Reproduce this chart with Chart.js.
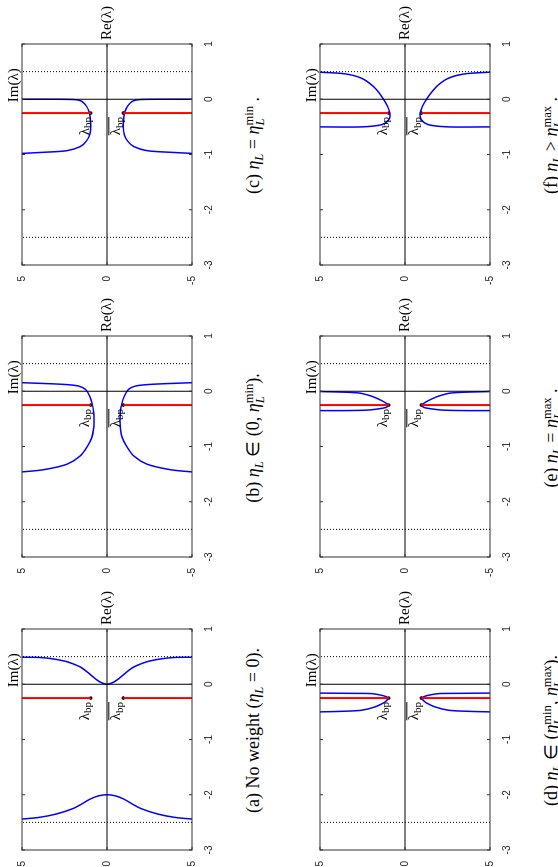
<!DOCTYPE html>
<html>
<head>
<meta charset="utf-8">
<script src="https://cdn.jsdelivr.net/npm/chart.js@4.4.0/dist/chart.umd.min.js"></script>
<style>
  html, body { margin: 0; padding: 0; background: #fff; }
  body { width: 558px; height: 867px; overflow: hidden; position: relative; }
  /* the figure is laid out landscape, then turned a quarter turn counter-clockwise */
  #fig { position: absolute; left: 0; top: 0; width: 867px; height: 558px;
         transform-origin: 0 0; transform: translate(0, 867px) rotate(-90deg); }
  #fig canvas { position: absolute; }
  .cap { position: absolute; width: 320px; text-align: center; white-space: nowrap;
         font-family: "Liberation Serif", serif; font-size: 18px; line-height: 20px; color: #000; }
  .sb { font-size: 0.7em; vertical-align: -0.3em; }
  .ss { display: inline-block; vertical-align: -0.45em; font-size: 0.7em; line-height: 0.9em; text-align: left; }
  .ss span { display: block; }
</style>
</head>
<body>
<div id="fig"></div>
<script>
// axes
const reTicks = [-3, -2, -1, 0, 1];
const imTicks = [-5, 0, 5];
const dottedRe = [0.5, -2.5];

// branch point lambda_bp = bpRe + i*bpIm (and its conjugate)
const bpRe = -0.25;
const bpIm = 0.96;

// upper halves (Im >= 0) of the blue curves; the lower halves are the conjugates
// (a) no weight: both curves cross the real axis
const a1Im = [5, 4, 3.3, 2.5, 2, 1.5, 1, 0.6, 0.3, 0];
const a1Re = [0.49, 0.485, 0.465, 0.42, 0.37, 0.3, 0.18, 0.08, 0.025, 0];
const a2Im = [5, 4, 3, 2, 1.5, 1, 0.5, 0];
const a2Re = [-2.44, -2.41, -2.35, -2.25, -2.17, -2.08, -2.02, -2];
// (b)
const bIm = [5, 3.33, 2.35, 1.67, 1.27, 1.02, 0.86, 0.78, 0.76, 0.8, 0.9, 1.14, 1.57, 2.35, 3.73, 5];
const bRe = [0.155, 0.136, 0.12, 0.094, 0.034, -0.087, -0.24, -0.39, -0.54, -0.69, -0.84, -0.99, -1.17, -1.32, -1.42, -1.46];
// (c)
const cIm = [5, 3, 2, 1.7, 1.47, 1.22, 1.06, 0.98, 0.96, 1.02, 1.22, 1.57, 2.35, 3.73, 5];
const cRe = [0, 0, -0.005, -0.015, -0.04, -0.12, -0.22, -0.34, -0.49, -0.64, -0.76, -0.855, -0.93, -0.96, -0.98];
// (d)
const dIm = [5, 3, 1.96, 1.37, 1.1, 0.98, 1.1, 1.27, 1.76, 2.55, 3.73, 5];
const dRe = [-0.16, -0.165, -0.17, -0.2, -0.225, -0.25, -0.3, -0.34, -0.41, -0.47, -0.49, -0.5];
// (e)
const eIm = [5, 2.75, 1.96, 1.37, 1.1, 0.98, 1.1, 1.37, 2.16, 3.53, 5];
const eRe = [-0.005, -0.03, -0.09, -0.17, -0.22, -0.25, -0.29, -0.31, -0.34, -0.35, -0.35];
// (f)
const fIm = [5, 3.53, 2.55, 1.86, 1.37, 1.02, 0.88, 0.98, 1.37, 2.55, 5];
const fRe = [0.49, 0.46, 0.38, 0.23, 0.05, -0.13, -0.28, -0.38, -0.46, -0.5, -0.5];

const BLUE = '#0000ff';
const RED = '#ff0000';
const SERIF = '"Liberation Serif", serif';

const etaL = '<i>η</i><span class="sb"><i>L</i></span>';
const etaS = s => '<i>η</i><span class="ss"><span>' + s + '</span><span><i>L</i></span></span>';

// plot boxes in the landscape frame (left, top); every box is 221 x 170
const panels = [
  {u: 17,    v: 21.7,  cross: true,  curves: [[a1Im, a1Re], [a2Im, a2Re]],
   cap: '(a) No weight (' + etaL + ' = 0).'},
  {u: 309.5, v: 21.7,  cross: false, curves: [[bIm, bRe]],
   cap: '(b) ' + etaL + ' ∈ (0, ' + etaS('min') + ').'},
  {u: 602,   v: 21.7,  cross: false, curves: [[cIm, cRe]],
   cap: '(c) ' + etaL + ' = ' + etaS('min') + ' .'},
  {u: 17,    v: 319.7, cross: false, curves: [[dIm, dRe]],
   cap: '(d) ' + etaL + ' ∈ (' + etaS('min') + ', ' + etaS('max') + ').'},
  {u: 309.5, v: 319.7, cross: false, curves: [[eIm, eRe]],
   cap: '(e) ' + etaL + ' = ' + etaS('max') + ' .'},
  {u: 602,   v: 319.7, cross: false, curves: [[fIm, fRe]],
   cap: '(f) ' + etaL + ' &gt; ' + etaS('max') + ' .'}
];

const PW = 221, PH = 170;
const PAD_L = 22, PAD_T = 22, PAD_R = 46, PAD_B = 22;

function seg(x0, y0, x1, y1, color, width, dash) {
  return {data: [{x: x0, y: y0}, {x: x1, y: y1}], showLine: true, borderColor: color,
          borderWidth: width, borderDash: dash || [], pointRadius: 0, tension: 0};
}

function blue(im, re) {
  return {data: im.map((v, i) => ({x: re[i], y: v})), showLine: true, borderColor: BLUE,
          borderWidth: 1.5, pointRadius: 0, tension: 0.3};
}

function buildDatasets(p) {
  const ds = [];
  dottedRe.forEach(r => ds.push(seg(r, -5, r, 5, '#000', 1, [1, 2])));
  ds.push(seg(-3, 0, 1, 0, '#000', 1));
  ds.push(seg(0, -5, 0, 5, '#000', 1));
  ds.push(seg(bpRe, 5, bpRe, bpIm, RED, 2));
  ds.push(seg(bpRe, -5, bpRe, -bpIm, RED, 2));
  p.curves.forEach(([im, re]) => {
    const lowIm = im.map(v => -v);
    if (p.cross) {
      // one curve through the real axis: upper half then its mirror
      const allIm = im.concat(lowIm.slice(0, -1).reverse());
      const allRe = re.concat(re.slice(0, -1).reverse());
      ds.push(blue(allIm, allRe));
    } else {
      ds.push(blue(im, re));
      ds.push(blue(lowIm, re));
    }
  });
  ds.push({data: [{x: bpRe, y: bpIm}, {x: bpRe, y: -bpIm}], showLine: false,
           pointRadius: 1.8, pointBackgroundColor: '#000', pointBorderWidth: 0});
  return ds;
}

function line(ctx, x0, y0, x1, y1) {
  ctx.beginPath(); ctx.moveTo(x0, y0); ctx.lineTo(x1, y1); ctx.stroke();
}

function bpLabel(ctx, xr, yb, bar) {
  ctx.font = '15px ' + SERIF;
  const w1 = ctx.measureText('λ').width;
  ctx.font = '11px ' + SERIF;
  const w2 = ctx.measureText('bp').width;
  const x0 = xr - w1 - w2;
  ctx.textAlign = 'left';
  ctx.textBaseline = 'alphabetic';
  ctx.font = '15px ' + SERIF;
  ctx.fillText('λ', x0, yb);
  ctx.font = '11px ' + SERIF;
  ctx.fillText('bp', x0 + w1, yb + 2.5);
  if (bar) line(ctx, x0, yb - 11.5, xr, yb - 11.5);
}

const framePlugin = {
  id: 'frame',
  afterDatasetsDraw(chart) {
    const {ctx, chartArea: a, scales: {x, y}} = chart;
    ctx.save();
    ctx.strokeStyle = '#333';
    ctx.lineWidth = 1;
    ctx.strokeRect(a.left, a.top, a.width, a.height);
    reTicks.forEach(t => {
      const px = x.getPixelForValue(t);
      line(ctx, px, a.top, px, a.top + 3);
      line(ctx, px, a.bottom, px, a.bottom - 3);
    });
    imTicks.forEach(t => {
      const py = y.getPixelForValue(t);
      line(ctx, a.left, py, a.left + 3, py);
      line(ctx, a.right, py, a.right - 3, py);
    });

    ctx.fillStyle = '#000';
    ctx.strokeStyle = '#000';
    ctx.font = '15px ' + SERIF;
    ctx.textAlign = 'left';
    ctx.textBaseline = 'middle';
    ctx.fillText('Re(λ)', a.right + 4, y.getPixelForValue(0));
    ctx.textBaseline = 'alphabetic';
    ctx.fillText('Im(λ)', x.getPixelForValue(0) - 3, a.top - 4.5);

    const bx = x.getPixelForValue(bpRe) - 4;
    bpLabel(ctx, bx, y.getPixelForValue(bpIm) - 2, false);
    bpLabel(ctx, bx, y.getPixelForValue(-bpIm) - 3, true);
    ctx.restore();
  }
};

const tickFont = {family: '"Liberation Sans", sans-serif', size: 10};

function makeChart(p) {
  const canvas = document.createElement('canvas');
  canvas.width = PAD_L + PW + PAD_R;
  canvas.height = PAD_T + PH + PAD_B;
  canvas.style.left = (p.u - PAD_L) + 'px';
  canvas.style.top = Math.round(p.v - PAD_T) + 'px';
  document.getElementById('fig').appendChild(canvas);

  new Chart(canvas.getContext('2d'), {
    type: 'scatter',
    data: {datasets: buildDatasets(p)},
    options: {
      responsive: false,
      animation: false,
      events: [],
      layout: {padding: {left: 0, top: PAD_T, right: PAD_R, bottom: 2}},
      plugins: {legend: {display: false}, tooltip: {enabled: false}},
      scales: {
        x: {
          type: 'linear', min: -3, max: 1,
          afterBuildTicks: s => { s.ticks = reTicks.map(v => ({value: v})); },
          afterFit: s => { s.height = PAD_B - 2; },
          grid: {display: false}, border: {display: false},
          ticks: {font: tickFont, color: '#222', padding: 3, maxRotation: 0}
        },
        y: {
          type: 'linear', min: -5, max: 5,
          afterBuildTicks: s => { s.ticks = imTicks.map(v => ({value: v})); },
          afterFit: s => { s.width = PAD_L; },
          grid: {display: false}, border: {display: false},
          ticks: {font: tickFont, color: '#222', padding: 3}
        }
      }
    },
    plugins: [framePlugin]
  });

  const cap = document.createElement('div');
  cap.className = 'cap';
  cap.innerHTML = p.cap;
  cap.style.left = (p.u + PW / 2 + 9 - 160) + 'px';
  cap.style.top = (p.v + 221) + 'px';
  document.getElementById('fig').appendChild(cap);
}

document.addEventListener('DOMContentLoaded', function () {
  panels.forEach(makeChart);
});
</script>
</body>
</html>
